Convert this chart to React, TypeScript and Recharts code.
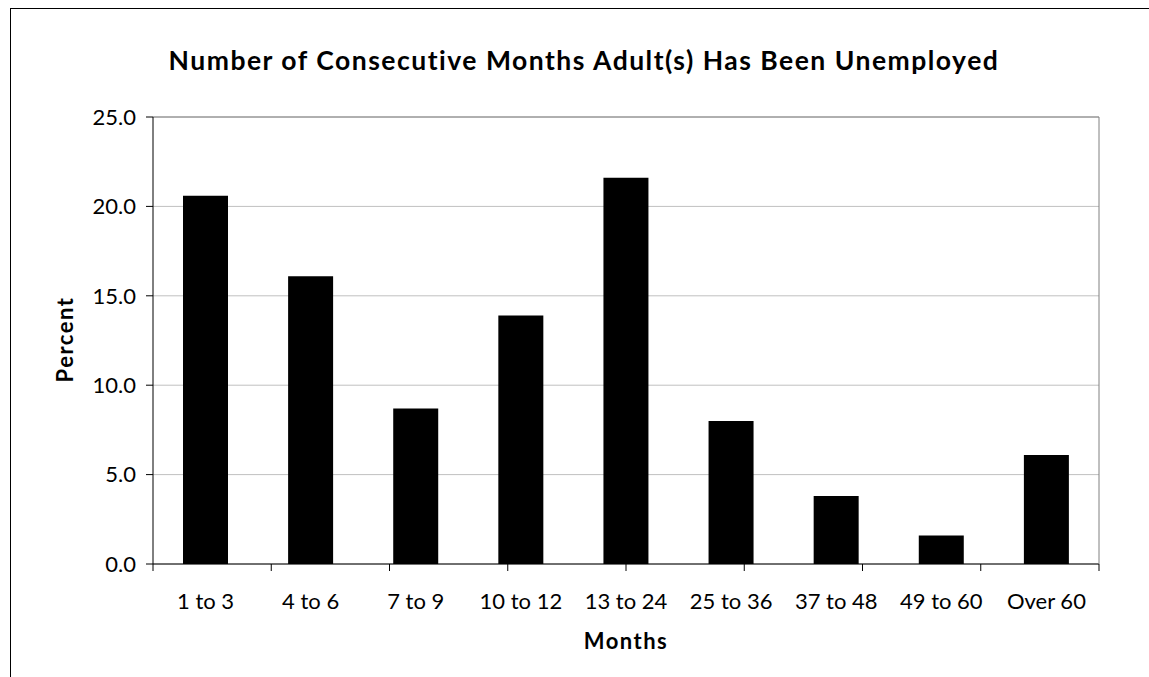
import { Bar, BarChart, CartesianGrid, ReferenceLine, XAxis, YAxis } from "recharts";

const months = ["1 to 3", "4 to 6", "7 to 9", "10 to 12", "13 to 24", "25 to 36", "37 to 48", "49 to 60", "Over 60"];
const percent = [20.6, 16.1, 8.7, 13.9, 21.6, 8.0, 3.8, 1.6, 6.1];
const yTicks = [0, 5, 10, 15, 20, 25];
const edgeTicks = [0, 1, 2, 3, 4, 5, 6, 7, 8, 9];

const data = months.map((m, i) => ({ month: m, value: percent[i] }));

const font = "Lato, 'Open Sans', sans-serif";

export default function App() {
  return (
    <div
      style={{
        position: "relative",
        left: 3,
        top: 1,
        width: 1110,
        height: 648,
        fontFamily: font,
      }}
    >
      {/* page frame: only top and left edges show */}
      <div style={{ position: "fixed", left: 10, top: 8, width: 1139, height: 1, background: "#000" }} />
      <div style={{ position: "fixed", left: 10, top: 8, width: 1, height: 669, background: "#000" }} />
      <div style={{ position: "absolute", left: 0, top: 0 }}>
        <BarChart
          width={1110}
          height={648}
          data={data}
          margin={{ top: 108, right: 21, left: 62, bottom: 52 }}
          barSize={45}
          accessibilityLayer={false}
          style={{ outline: "none" }}
        >
          <CartesianGrid horizontal vertical={false} stroke="#c0c0c0" yAxisId="left" xAxisId="b" />
          <XAxis
            xAxisId="b"
            dataKey="month"
            height={40}
            axisLine={false}
            tickLine={false}
            tickSize={7}
            tickMargin={21}
            interval={0}
            tick={{ fill: "#000", fontSize: 22, fontFamily: font }}
          />
          <XAxis
            xAxisId="a"
            type="number"
            domain={[0, 9]}
            ticks={edgeTicks}
            allowDataOverflow
            height={1}
            tickSize={7}
            tickFormatter={() => ""}
            stroke="#000"
          />
          <YAxis
            yAxisId="left"
            domain={[0, 25]}
            ticks={yTicks}
            width={80}
            tickSize={7}
            tickMargin={10}
            stroke="#000"
            tickFormatter={(v: number) => v.toFixed(1)}
            tick={{ fill: "#000", fontSize: 22, fontFamily: font }}
          />
          <YAxis
            yAxisId="right"
            orientation="right"
            domain={[0, 25]}
            width={1}
            tick={false}
            tickLine={false}
            stroke="#808080"
          />
          <ReferenceLine yAxisId="left" xAxisId="b" y={25} stroke="#808080" />
          <Bar dataKey="value" yAxisId="left" xAxisId="b" fill="#000" isAnimationActive={false} />
        </BarChart>
      </div>
      <div
        style={{
          position: "absolute",
          left: 0,
          width: 1146,
          top: 35,
          textAlign: "center",
          fontSize: 26.5,
          fontWeight: 700,
          letterSpacing: 1.5,
          color: "#000",
          whiteSpace: "nowrap",
        }}
      >
        Number of Consecutive Months Adult(s) Has Been Unemployed
      </div>
      <div
        style={{
          position: "absolute",
          left: 53 - 60,
          top: 330 - 13,
          width: 120,
          textAlign: "center",
          fontSize: 22,
          fontWeight: 700,
          letterSpacing: 1.5,
          transform: "rotate(-90deg)",
        }}
      >
        Percent
      </div>
      <div
        style={{
          position: "absolute",
          left: 615 - 60,
          top: 618,
          width: 120,
          textAlign: "center",
          fontSize: 22,
          fontWeight: 700,
          letterSpacing: 1.5,
        }}
      >
        Months
      </div>
    </div>
  );
}
